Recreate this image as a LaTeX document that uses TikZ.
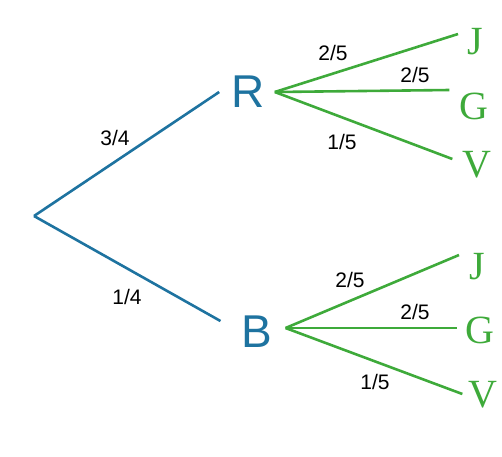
\documentclass[tikz,border=0pt]{standalone}
\usepackage{fontspec}
\setmainfont{Liberation Serif}
\newfontfamily\arialfont{Liberation Sans}
\usetikzlibrary{positioning}
\definecolor{treeblue}{RGB}{30,115,160}
\definecolor{treegreen}{RGB}{62,170,58}
\tikzset{
        treenode/.style={align=center,inner sep=0pt},
        % First-level nodes (R, B)
        node_hub/.style={treenode, treeblue, font=\arialfont\fontsize{46}{46}\selectfont},
        % Leaf nodes (J, G, V)
        node_leaf/.style={treenode, treegreen, font=\fontsize{40}{40}\selectfont},
        % Probability labels
        node_prob/.style={treenode, black, font=\arialfont\fontsize{21}{21}\selectfont},
        % Branches
        edge_blue/.style={draw=treeblue, line width=2.6pt},
        edge_green/.style={draw=treegreen, line width=2.6pt}
}

\begin{document}
\begin{tikzpicture}[x=1pt, y=-1pt]
            \useasboundingbox (0,0) rectangle (502,456);
            \coordinate (root) at (34,216);
            % Level 1
            \node[node_hub] (R) at (248,92) {R};
            \node[node_hub] (B) at (257,332) {B};
            % Leaves after R
            \node[node_leaf] (RJ) at (475,42) {J};
            \node[node_leaf] (RG) at (474,106) {G};
            \node[node_leaf] (RV) at (477,165) {V};
            % Leaves after B
            \node[node_leaf] (BJ) at (477,267) {J};
            \node[node_leaf] (BG) at (480,330) {G};
            \node[node_leaf] (BV) at (483,395) {V};

            \draw[edge_blue] (root) -- ([xshift=-12]R.west);
            \draw[edge_blue] (root) -- ([shift={(-21,-11)}]B.west);

            \draw[edge_green] ([xshift=10]R.east) -- ([shift={(-9,-8)}]RJ.west);
            \draw[edge_green] ([xshift=10]R.east) -- ([shift={(-10,-16)}]RG.west);
            \draw[edge_green] ([xshift=10]R.east) -- ([shift={(-10,-6)}]RV.west);

            \draw[edge_green] ([shift={(13,-4)}]B.east) -- ([shift={(-10,-12)}]BJ.west);
            \draw[edge_green] ([shift={(13,-4)}]B.east) -- ([shift={(-8,-2)}]BG.west);
            \draw[edge_green] ([shift={(13,-4)}]B.east) -- ([shift={(-6,-1)}]BV.west);

            % Probabilities
            \node[node_prob] (p34) at (115,138) {3/4};
            \node[node_prob] (p14) at (127,297) {1/4};
            \node[node_prob] (pRJ) at (333,53) {2/5};
            \node[node_prob] (pRG) at (415,75) {2/5};
            \node[node_prob] (pRV) at (342,142) {1/5};
            \node[node_prob] (pBJ) at (350,280) {2/5};
            \node[node_prob] (pBG) at (415,312) {2/5};
            \node[node_prob] (pBV) at (375,382) {1/5};
        \end{tikzpicture}
\end{document}
